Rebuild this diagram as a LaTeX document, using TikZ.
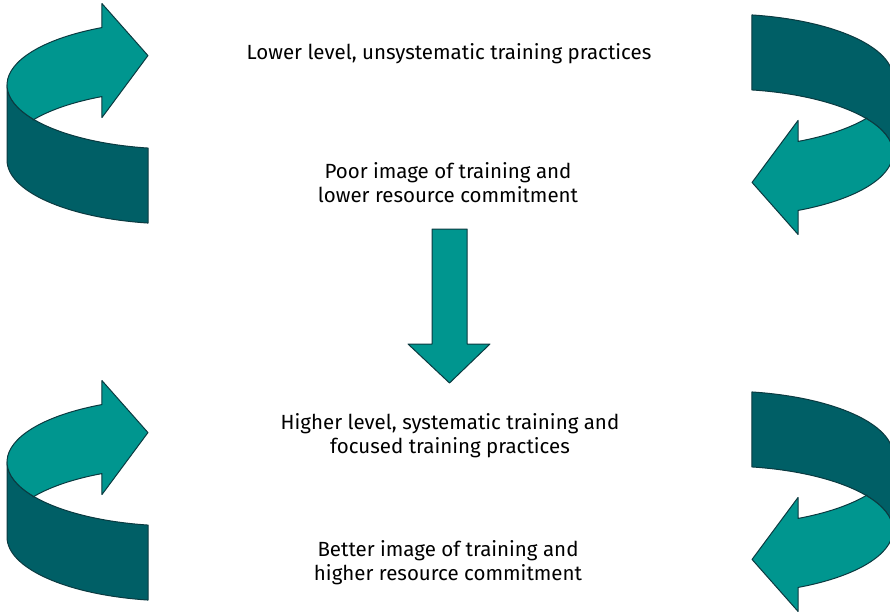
\documentclass[tikz,border=0pt]{standalone}
\usepackage{fontspec}
\setmainfont{Fira Sans}
\usepackage{xcolor}
\usetikzlibrary{positioning}

\definecolor{ribbonlight}{HTML}{00968F}
\definecolor{ribbondark}{HTML}{005F66}
\definecolor{ribbonedge}{HTML}{0B3A40}

% curved ribbon arrow, drawn in its own frame (y grows downwards)
\newcommand{\turnarrow}{%
  % front of the band (dark)
  \draw[darkface] (33,119)
      arc[start angle=147.9, end angle=99.8, x radius=170, y radius=64]
      -- ++(0,75)
      arc[start angle=99.8, end angle=180, x radius=170, y radius=64]
      -- ++(0,-75)
      arc[start angle=180, end angle=147.9, x radius=170, y radius=64]
      -- cycle;
  % inner face with the head (light)
  \draw[lightface] (33,119)
      arc[start angle=147.9, end angle=243.8, x radius=170, y radius=64]
      -- ++(0,-24) -- ++(46,52) -- ++(-46,62) -- ++(0,-21)
      arc[start angle=243.8, end angle=212.1, x radius=170, y radius=64]
      -- cycle;
}

\begin{document}
\begin{tikzpicture}[
    x=1pt, y=-1pt,
    font=\fontsize{20.5}{24}\selectfont,
    lbl/.style       ={align=center, inner sep=0pt},
    lightface/.style ={fill=ribbonlight, draw=ribbonedge, line width=1pt, line join=round},
    darkface/.style  ={fill=ribbondark, draw=ribbonedge, line width=1pt, line join=round}
]
\useasboundingbox (0,0) rectangle (890,615);
\clip (0,0) rectangle (890,615);

% =================== side arrows ===================
\foreach \dy in {0,377} {
  \begin{scope}[shift={(0,\dy)}]
    \turnarrow
    \begin{scope}[rotate around={180:(450,119)}]
      \turnarrow
    \end{scope}
  \end{scope}
}

% =================== texts ===================
\node[lbl] (lowlevel)    at (449,54)  {Lower level, unsystematic training practices};
\node[lbl] (poorimage)   at (448,183) {Poor image of training and\\lower resource commitment};
\node[lbl] (highlevel)   at (450,436) {Higher level, systematic training and\\focused training practices};
\node[lbl] (betterimage) at (448,563) {Better image of training and\\higher resource commitment};

% down arrow between the two blocks
\draw[lightface] (432,229) -- (467,229) -- (467,344) -- (490,344)
    -- (449.5,383) -- (408,344) -- (432,344) -- cycle;

\end{tikzpicture}
\end{document}
